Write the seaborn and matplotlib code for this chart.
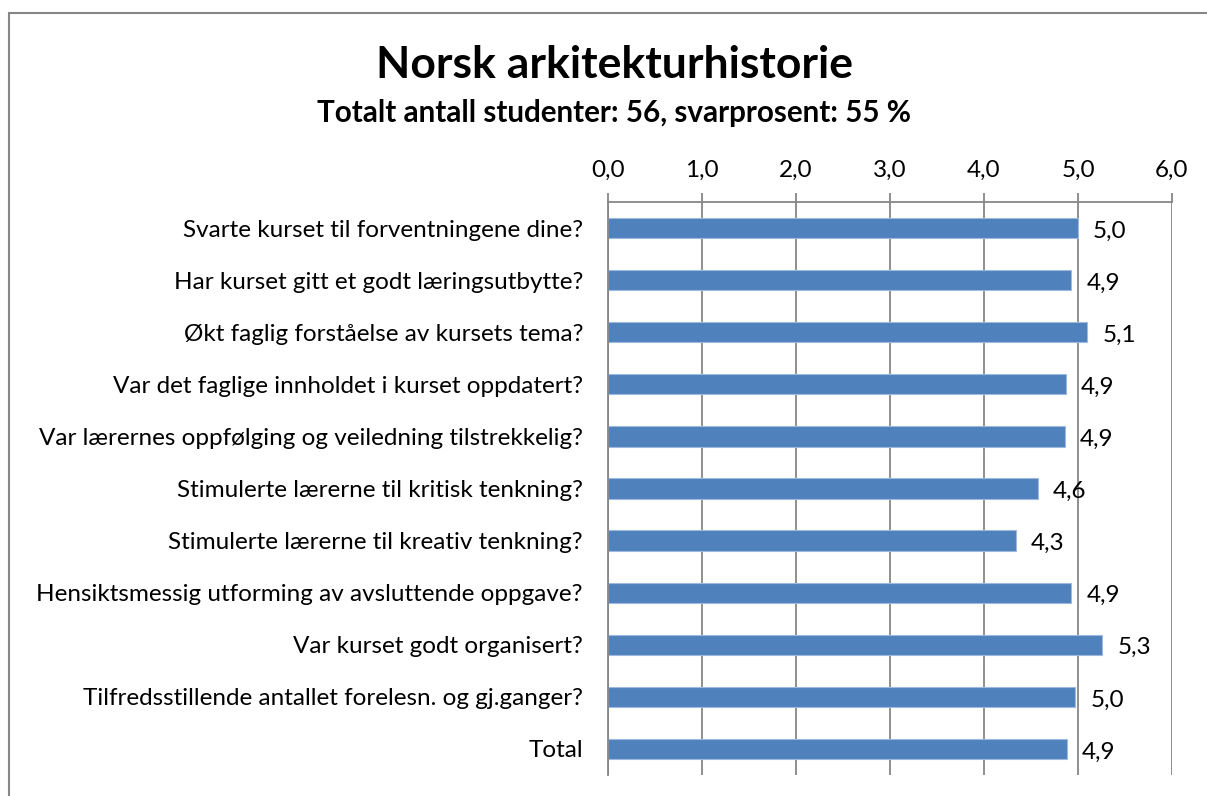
import matplotlib
matplotlib.use("Agg")
import pandas as pd
import seaborn as sns
import matplotlib.pyplot as plt
from matplotlib.lines import Line2D

title = "Norsk arkitekturhistorie"
subtitle = "Totalt antall studenter: 56, svarprosent: 55 %"

questions = [
    "Svarte kurset til forventningene dine?",
    "Har kurset gitt et godt læringsutbytte?",
    "Økt faglig forståelse av kursets tema?",
    "Var det faglige innholdet i kurset oppdatert?",
    "Var lærernes oppfølging og veiledning tilstrekkelig?",
    "Stimulerte lærerne til kritisk tenkning?",
    "Stimulerte lærerne til kreativ tenkning?",
    "Hensiktsmessig utforming av avsluttende oppgave?",
    "Var kurset godt organisert?",
    "Tilfredsstillende antallet forelesn. og gj.ganger?",
    "Total",
]
scores = [5.00, 4.93, 5.10, 4.87, 4.86, 4.57, 4.34, 4.93, 5.26, 4.97, 4.88]
x_ticks = [0, 1, 2, 3, 4, 5, 6]


def comma(v):
    return f"{v:.1f}".replace(".", ",")


def main():
    sns.set_style("white")
    plt.rcParams["font.family"] = ["Lato", "DejaVu Sans"]
    plt.rcParams["text.color"] = "black"
    plt.rcParams["xtick.labelcolor"] = "black"
    plt.rcParams["ytick.labelcolor"] = "black"

    df = pd.DataFrame({"question": questions, "score": scores})

    fig = plt.figure(figsize=(12.07, 7.96), dpi=100)
    ax = fig.add_axes([608 / 1207, 1 - 775 / 796, (1172 - 608) / 1207, (775 - 202) / 796])

    sns.barplot(data=df, x="score", y="question", orient="h", color="#4F81BD",
                saturation=1, width=0.39, edgecolor="#9DB9DE", linewidth=0.8, ax=ax)

    grey = "#868686"
    ax.set_xlim(0, 6)
    ax.set_ylim(len(questions) - 0.5, -0.5)
    ax.set_xticks(x_ticks)
    ax.set_xticklabels([comma(t) for t in x_ticks], fontsize=17.5)
    ax.xaxis.tick_top()
    ax.tick_params(axis="x", direction="out", length=6.5, width=1.3, color=grey, pad=9)
    ax.tick_params(axis="y", which="major", length=0, pad=18, labelsize=17.5)
    ax.set_yticks([i - 0.5 for i in range(len(questions) + 1)], minor=True)
    ax.tick_params(axis="y", which="minor", direction="out", length=6.3, width=1.3, color=grey)
    ax.set_xlabel("")
    ax.set_ylabel("")

    for v in x_ticks:
        ax.axvline(v, color=grey, lw=1.3, zorder=0)
    for side in ["right", "bottom"]:
        ax.spines[side].set_visible(False)
    for side in ["left", "top"]:
        ax.spines[side].set_color(grey)
        ax.spines[side].set_linewidth(1.3)

    # value labels to the right of each bar
    for i, v in enumerate(scores):
        ax.annotate(comma(v), (v, i), xytext=(15, -3), textcoords="offset pixels",
                    ha="left", va="center", fontsize=17.5)

    fig.text(614 / 1207, 1 - 65 / 796, title, ha="center", va="center",
             fontsize=32, fontweight="bold")
    fig.text(614 / 1207, 1 - 113 / 796, subtitle, ha="center", va="center",
             fontsize=21.3, fontweight="bold")

    # outer chart border (runs off the right and bottom edges)
    fig.add_artist(Line2D([8.5 / 1207, 8.5 / 1207], [0, 1 - 13 / 796], color=grey, lw=1.5))
    fig.add_artist(Line2D([8.5 / 1207, 1], [1 - 13 / 796, 1 - 13 / 796], color=grey, lw=1.5))

    fig.savefig("out.png", dpi=100)


if __name__ == "__main__":
    main()
